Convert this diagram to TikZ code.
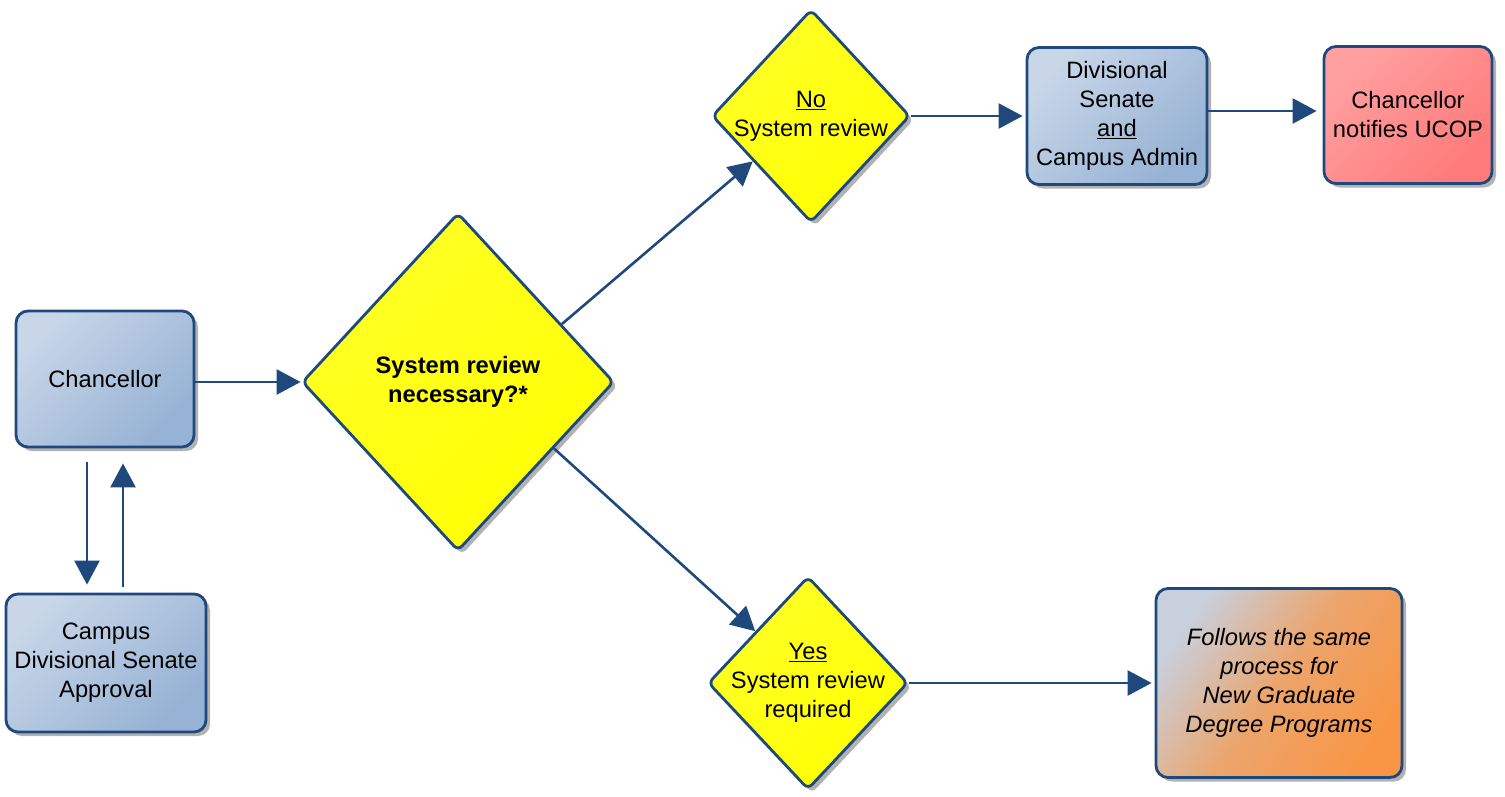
\documentclass[tikz,border=0pt]{standalone}
\usepackage{fontspec}
\setmainfont{Liberation Sans}
\usetikzlibrary{shapes.geometric,arrows.meta,shadows,calc}
\definecolor{edgeblue}{RGB}{31,73,125}
\definecolor{boxlight}{RGB}{200,214,232}
\definecolor{boxdark}{RGB}{150,178,212}
\definecolor{redlight}{RGB}{255,160,160}
\definecolor{reddark}{RGB}{255,122,122}
\definecolor{greylight}{RGB}{200,208,222}
\definecolor{orangedark}{RGB}{248,150,70}
\newcommand\boxfont{\fontsize{23.7}{29}\selectfont}
\tikzset{
	box/.style={draw=edgeblue, line width=2.8pt, rounded corners=12pt, align=center, font=\boxfont, inner sep=0pt,
		drop shadow={shadow xshift=4pt, shadow yshift=-4pt, fill=black!30, opacity=1}},
	bluebox/.style={box, top color=boxlight, bottom color=boxdark, shading angle=45},
	redbox/.style={box, top color=redlight, bottom color=reddark, shading angle=45},
	orangebox/.style={box, top color=greylight, bottom color=orangedark, middle color=orangedark!75!greylight, shading angle=55},
	decision/.style={diamond, draw=edgeblue, line width=2.8pt, rounded corners=6pt, align=center, font=\boxfont,
		inner sep=-14pt, top color=yellow!85!white, bottom color=yellow, shading angle=45,
		drop shadow={shadow xshift=4pt, shadow yshift=-4pt, fill=black!30, opacity=1}},
	flow/.style={draw=edgeblue, line width=2.6pt, -{Triangle[length=24pt,width=25pt]}}
}

\begin{document}
\begin{tikzpicture}[x=1pt,y=-1pt]
	\useasboundingbox (0,0) rectangle (1505,796);
	% left column
	\node[bluebox, minimum width=178pt, minimum height=136pt] (chan) at (105,379) {Chancellor};
	\node[bluebox, minimum width=200pt, minimum height=138pt] (camp) at (106,663) {Campus\\Divisional Senate\\Approval};
	% decisions
	\node[decision, minimum width=312pt, minimum height=338pt, font=\boxfont\bfseries] (check) at (458,382) {System review\\necessary?*};
	\node[decision, minimum width=198pt, minimum height=213pt] (nosys) at (811,116) {\underline{No}\\System review};
	\node[decision, minimum width=200pt, minimum height=213pt] (yessys) at (808,683) {\underline{Yes}\\System review\\required};
	% outcomes
	\node[bluebox, minimum width=180pt, minimum height=137pt] (divadm) at (1117,116) {Divisional\\Senate\\\underline{and}\\Campus Admin};
	\node[redbox, minimum width=168pt, minimum height=137pt] (ucop) at (1408,115) {Chancellor\\notifies UCOP};
	\node[orangebox, minimum width=246pt, minimum height=189pt, font=\boxfont\itshape] (same) at (1279,683) {Follows the same\\process for\\New Graduate\\Degree Programs};

	\draw[flow] (chan.east |- check.west) -- (check.west);
	\draw[flow, shorten <=14pt, shorten >=8pt] ([xshift=-18pt]chan.south) -- ([xshift=-18pt]chan.south |- camp.north);
	\draw[flow, shorten <=6pt, shorten >=15pt] ([xshift=17pt]camp.north) -- ([xshift=17pt]camp.north |- chan.south);
	\draw[flow] ($(check.north)!0.66!(check.east)$) -- ($(nosys.west)!0.42!(nosys.south)$);
	\draw[flow] ($(check.east)!0.39!(check.south)$) -- ($(yessys.west)!0.48!(yessys.north)$);
	\draw[flow, shorten >=3pt] (nosys.east) -- (divadm.west);
	\draw[flow, shorten >=6pt] ([yshift=5pt]divadm.east) -- ([yshift=5pt]divadm.east -| ucop.west);
	\draw[flow, shorten >=3pt] (yessys.east) -- (same.west);
\end{tikzpicture}
\end{document}
